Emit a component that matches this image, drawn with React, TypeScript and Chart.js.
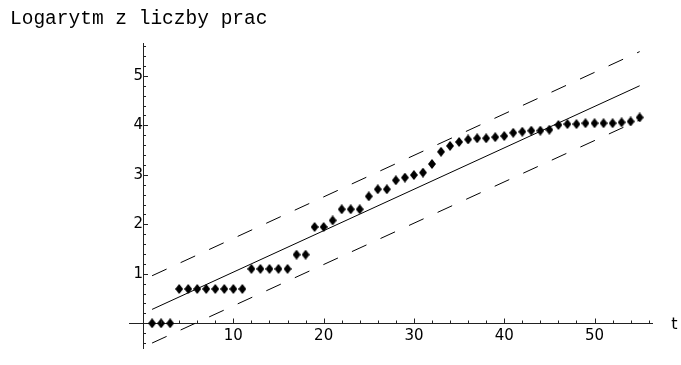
import { useEffect, useRef } from "react";
import { Chart, registerables } from "chart.js";

Chart.register(...registerables);

const tValues = [
  1, 2, 3, 4, 5, 6, 7, 8, 9, 10, 11, 12, 13, 14, 15, 16, 17, 18, 19, 20,
  21, 22, 23, 24, 25, 26, 27, 28, 29, 30, 31, 32, 33, 34, 35, 36, 37, 38, 39, 40,
  41, 42, 43, 44, 45, 46, 47, 48, 49, 50, 51, 52, 53, 54, 55,
];
const logCounts = [
  0, 0, 0,
  0.693, 0.693, 0.693, 0.693, 0.693, 0.693, 0.693, 0.693,
  1.099, 1.099, 1.099, 1.099, 1.099,
  1.386, 1.386,
  1.946, 1.946,
  2.079,
  2.303, 2.303, 2.303,
  2.565,
  2.708, 2.708,
  2.89, 2.944, 2.996, 3.045, 3.219, 3.466, 3.584, 3.664, 3.714, 3.738, 3.738, 3.761,
  3.784, 3.85, 3.871, 3.892, 3.892, 3.912, 4.007, 4.025, 4.025, 4.043, 4.043, 4.043,
  4.043, 4.06, 4.078, 4.159,
];
const fitT = [1, 55];
const fitLine = [0.28, 4.8];
const upperBand = [0.96, 5.49];
const lowerBand = [-0.4, 4.11];
const xLabelTicks = [10, 20, 30, 40, 50];
const yLabelTicks = [1, 2, 3, 4, 5];
const titleText = "Logarytm z liczby prac";
const xAxisName = "t";

function makeDiamond(): HTMLCanvasElement {
  const c = document.createElement("canvas");
  c.width = 8;
  c.height = 10;
  const g = c.getContext("2d")!;
  g.fillStyle = "#000";
  g.beginPath();
  g.moveTo(4, 0);
  g.lineTo(8, 5);
  g.lineTo(4, 10);
  g.lineTo(0, 5);
  g.closePath();
  g.fill();
  return c;
}

const axisDecor = {
  id: "axisDecor",
  afterDraw(chart: any) {
    const ctx = chart.ctx as CanvasRenderingContext2D;
    const xs = chart.scales.x;
    const ys = chart.scales.y;
    const x0 = Math.round(xs.getPixelForValue(0)) + 0.5;
    const y0 = Math.round(ys.getPixelForValue(0)) + 0.5;
    ctx.save();
    ctx.strokeStyle = "#222";
    ctx.lineWidth = 1;
    ctx.beginPath();
    for (let k = 1; k <= 28; k++) {
      const v = k * 2;
      const px = Math.round(xs.getPixelForValue(v)) + 0.5;
      const len = v % 10 === 0 ? 5 : 3;
      ctx.moveTo(px, y0);
      ctx.lineTo(px, y0 - len);
    }
    for (let k = -2; k <= 28; k++) {
      if (k === 0) continue;
      const py = Math.round(ys.getPixelForValue(k * 0.2)) + 0.5;
      const len = k % 5 === 0 ? 4.5 : 2.5;
      ctx.moveTo(x0, py);
      ctx.lineTo(x0 + len, py);
    }
    ctx.stroke();
    ctx.fillStyle = "#000";
    ctx.textAlign = "left";
    ctx.textBaseline = "alphabetic";
    ctx.font = "19.5px 'Liberation Mono'";
    ctx.fillText(titleText, 10, 24);
    ctx.font = "16px 'DejaVu Sans'";
    ctx.fillText(xAxisName, xs.right + 19, y0 + 5.5);
    ctx.restore();
  },
};

export default function App() {
  const ref = useRef<HTMLCanvasElement | null>(null);
  useEffect(() => {
    document.body.style.margin = "0";
    const diamond = makeDiamond();
    const pts = tValues.map((t, i) => ({ x: t, y: logCounts[i] }));
    const mk = (ys: number[]) => fitT.map((t, i) => ({ x: t, y: ys[i] }));
    const chart = new Chart(ref.current!, {
      type: "scatter",
      data: {
        datasets: [
          {
            data: pts,
            pointStyle: diamond as any,
            pointRadius: 5,
            pointHoverRadius: 5,
            backgroundColor: "#000",
            borderColor: "#000",
          },
          {
            data: mk(fitLine),
            showLine: true,
            borderColor: "#000",
            borderWidth: 1,
            pointRadius: 0,
          },
          {
            data: mk(upperBand),
            showLine: true,
            borderColor: "#000",
            borderWidth: 1,
            borderDash: [16, 15.4],
            pointRadius: 0,
          },
          {
            data: mk(lowerBand),
            showLine: true,
            borderColor: "#000",
            borderWidth: 1,
            borderDash: [16, 15.4],
            pointRadius: 0,
          },
        ] as any,
      },
      options: {
        animation: false,
        responsive: false,
        layout: { padding: { left: 129.5, right: 28.7, top: 43.7, bottom: 1.5 } },
        plugins: { legend: { display: false }, tooltip: { enabled: false } },
        scales: {
          x: {
            type: "linear",
            min: -1.5,
            max: 56.4,
            position: { y: 0 } as any,
            afterBuildTicks: (s: any) => {
              s.ticks = xLabelTicks.map((v) => ({ value: v }));
            },
            ticks: {
              font: { family: "DejaVu Sans", size: 15 },
              color: "#000",
              padding: 4,
              maxRotation: 0,
              autoSkip: false,
            },
            grid: { display: true, drawOnChartArea: false, drawTicks: false },
            border: { display: true, color: "#222", width: 1 },
          },
          y: {
            type: "linear",
            min: -0.5,
            max: 5.65,
            position: { x: 0 } as any,
            afterBuildTicks: (s: any) => {
              s.ticks = yLabelTicks.map((v) => ({ value: v }));
            },
            ticks: {
              font: { family: "DejaVu Sans", size: 15 },
              color: "#000",
              padding: 8,
              autoSkip: false,
            },
            grid: { display: true, drawOnChartArea: false, drawTicks: false },
            border: { display: true, color: "#222", width: 1 },
          },
        },
      },
      plugins: [axisDecor],
    });
    return () => chart.destroy();
  }, []);
  return (
    <canvas
      ref={ref}
      width={681}
      height={365}
      style={{ display: "block", width: 681, height: 365 }}
    />
  );
}
